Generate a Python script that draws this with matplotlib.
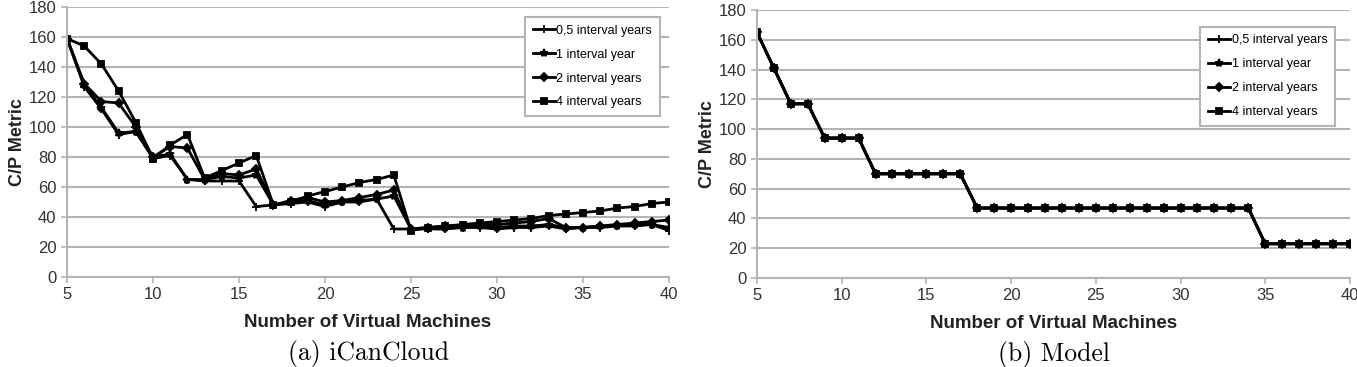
import numpy as np
import matplotlib
matplotlib.use("Agg")
import matplotlib.pyplot as plt

plt.rcParams['font.family'] = ['Liberation Sans', 'DejaVu Sans']

vms = list(range(5, 41))
labels = ["0,5 interval years", "1 interval year", "2 interval years", "4 interval years"]
markers = ['+', '*', 'D', 's']

# (a) iCanCloud
sim_05 = [159, 127, 112, 95, 97, 79, 81, 65, 64, 64, 64, 47, 48, 49, 50, 47, 50, 50, 52, 32,
          32, 32, 32, 33, 33, 32, 33, 33, 34, 32, 33, 33, 34, 34, 35, 31]
sim_1 = [159, 128, 113, 96, 97, 80, 82, 65, 65, 67, 66, 68, 48, 50, 51, 48, 50, 51, 52, 54,
         32, 33, 33, 33, 34, 33, 34, 34, 35, 33, 33, 34, 34, 35, 35, 33]
sim_2 = [159, 129, 117, 116, 100, 80, 87, 86, 65, 69, 68, 72, 48, 51, 53, 50, 51, 53, 55, 58,
         32, 33, 34, 34, 35, 35, 36, 37, 39, 33, 33, 34, 35, 36, 37, 38]
sim_4 = [159, 154, 142, 124, 103, 79, 88, 95, 66, 71, 76, 81, 48, 50, 54, 57, 60, 63, 65, 68,
         31, 33, 34, 35, 36, 37, 38, 39, 41, 42, 43, 44, 46, 47, 49, 50]

# (b) Model
model_05 = [165, 141, 117, 117, 94, 94, 94, 70, 70, 70, 70, 70, 70, 47, 47, 47, 47, 47, 47, 47,
            47, 47, 47, 47, 47, 47, 47, 47, 47, 47, 23, 23, 23, 23, 23, 23]
model_1 = list(model_05)
model_2 = list(model_05)
model_4 = list(model_05)

fig = plt.figure(figsize=(13.57, 3.67), dpi=100)
ax1 = fig.add_axes([0.0494, 0.2452, 0.4436, 0.7357])
ax2 = fig.add_axes([0.5578, 0.2425, 0.4370, 0.7302])

grid_c = '#b4b4b4'


def draw(ax, series, caption, legend_pos):
    for vals, lab, m in zip(series, labels, markers):
        ms = 6 if m in ('+', '*') else (4 if m == 'D' else 4.5)
        ax.plot(vms, vals, color='black', lw=2, marker=m, ms=ms, mew=1.3, label=lab)
    ax.set_xlim(5, 40)
    ax.set_ylim(0, 180)
    ax.set_xticks(range(5, 41, 5))
    ax.set_yticks(range(0, 181, 20))
    ax.yaxis.grid(True, color=grid_c, lw=1.5)
    ax.set_axisbelow(True)
    for s in ('top', 'right'):
        ax.spines[s].set_visible(False)
    for s in ('left', 'bottom'):
        ax.spines[s].set_color(grid_c)
        ax.spines[s].set_linewidth(1.5)
    ax.tick_params(axis='both', colors=grid_c, labelcolor='#333333', labelsize=12,
                   length=4, width=1.2)
    ax.set_xlabel("Number of Virtual Machines", fontsize=13.5, fontweight='bold',
                  color='#222222', labelpad=8)
    ax.set_ylabel("C/P Metric", fontsize=13, fontweight='bold', color='#222222', labelpad=2)
    leg = ax.legend(loc='upper right', bbox_to_anchor=legend_pos, fontsize=9,
                    fancybox=False, framealpha=1, edgecolor=grid_c, handlelength=1.8,
                    handletextpad=0.1, labelspacing=0.95, borderpad=0.6)
    leg.get_frame().set_linewidth(1.5)
    ax.text(0.5, -0.235, caption, transform=ax.transAxes, ha='center', va='top',
            fontsize=18.5, family='cmr10')


draw(ax1, [sim_05, sim_1, sim_2, sim_4], "(a) iCanCloud", (0.995, 0.985))
draw(ax2, [model_05, model_1, model_2, model_4], "(b) Model", (0.985, 0.96))

fig.savefig("out.png", dpi=100)
